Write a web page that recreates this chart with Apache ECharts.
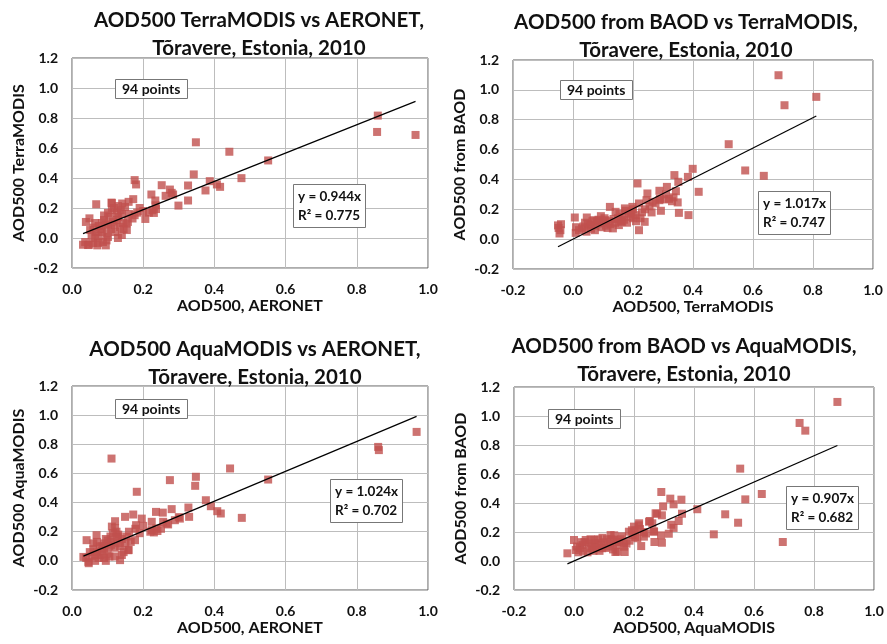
<!DOCTYPE html>
<html>
<head>
<meta charset="utf-8">
<script src="https://cdn.jsdelivr.net/npm/echarts@6/dist/echarts.min.js"></script>
<style>
  html, body { margin: 0; padding: 0; background: #fff; }
  #chart { width: 887px; height: 644px; }
</style>
</head>
<body>
<div id="chart"></div>
<script>
// [x, y] pairs
var terraVsAeronet = [
  [0.859,0.816],[0.857,0.707],[0.965,0.687],[0.348,0.638],[0.442,0.575],[0.551,0.517],[0.476,0.399],[0.342,0.424],
  [0.387,0.379],[0.375,0.317],[0.407,0.357],[0.416,0.341],[0.326,0.350],[0.326,0.250],[0.299,0.216],[0.252,0.352],
  [0.275,0.323],[0.280,0.301],[0.263,0.281],[0.284,0.290],[0.234,0.250],[0.223,0.290],[0.235,0.218],[0.226,0.185],
  [0.216,0.169],[0.206,0.127],[0.176,0.386],[0.180,0.357],[0.172,0.259],[0.159,0.241],[0.183,0.169],[0.176,0.152],
  [0.153,0.096],[0.137,0.185],[0.141,0.230],[0.111,0.236],[0.068,0.225],[0.049,0.131],[0.039,0.107],[0.031,-0.045],
  [0.048,-0.045],[0.071,-0.049],[0.095,-0.049],[0.097,-0.016],[0.129,0.213],[0.112,0.187],[0.149,0.207],[0.101,0.167],
  [0.126,0.167],[0.236,0.193],[0.230,0.167],[0.065,0.100],[0.084,0.100],[0.101,0.087],[0.126,0.120],[0.143,0.100],
  [0.157,0.107],[0.135,0.073],[0.154,0.053],[0.051,0.053],[0.067,0.040],[0.084,0.040],[0.098,0.033],[0.121,0.040],
  [0.140,0.020],[0.101,0.007],[0.037,-0.027],[0.059,-0.033],[0.073,-0.033],[0.087,-0.027],[0.065,0.000],[0.129,0.000],
  [0.045,-0.047],[0.118,0.200],[0.105,0.140],[0.090,0.120],[0.075,0.080],[0.080,0.060],[0.060,0.070],[0.110,0.060],
  [0.120,0.090],[0.130,0.140],[0.160,0.160],[0.190,0.200],[0.200,0.180],[0.170,0.130],[0.145,0.060],[0.090,0.150],
  [0.115,0.110],[0.055,0.020],[0.075,0.015],[0.095,0.090],[0.140,0.160],[0.112,0.233]
];
var baodVsTerra = [
  [0.685,1.098],[0.705,0.897],[0.811,0.953],[0.519,0.636],[0.574,0.460],[0.636,0.424],[0.399,0.471],[0.419,0.317],
  [0.383,0.417],[0.338,0.429],[0.351,0.384],[0.343,0.321],[0.349,0.246],[0.353,0.176],[0.385,0.161],[0.313,0.350],
  [0.288,0.324],[0.288,0.261],[0.304,0.266],[0.330,0.254],[0.293,0.190],[0.262,0.179],[0.245,0.261],[0.248,0.306],
  [0.215,0.373],[0.220,0.239],[0.198,0.216],[0.173,0.206],[0.192,0.149],[0.220,0.060],[0.239,0.116],[0.209,0.161],
  [0.142,0.183],[0.123,0.216],[0.133,0.072],[0.108,0.127],[0.073,0.060],[0.093,0.154],[0.046,0.145],[0.006,0.145],
  [0.009,0.042],[-0.050,0.092],[-0.045,0.038],[-0.042,0.060],[-0.048,0.075],[-0.040,0.100],[0.030,0.072],[0.058,0.094],
  [0.069,0.127],[0.086,0.105],[0.164,0.116],[0.153,0.094],[0.020,0.060],[0.035,0.085],[0.050,0.100],[0.060,0.070],
  [0.075,0.090],[0.080,0.120],[0.095,0.080],[0.100,0.110],[0.110,0.090],[0.120,0.120],[0.125,0.100],[0.140,0.110],
  [0.150,0.140],[0.160,0.120],[0.170,0.130],[0.180,0.110],[0.185,0.170],[0.200,0.140],[0.210,0.120],[0.225,0.140],
  [0.230,0.180],[0.240,0.200],[0.255,0.220],[0.265,0.250],[0.275,0.240],[0.290,0.270],[0.310,0.300],[0.320,0.270],
  [0.335,0.280],[0.155,0.170],[0.165,0.150],[0.045,0.050],[0.065,0.120],[0.085,0.130],[0.105,0.140],[0.115,0.075],
  [0.135,0.135],[0.175,0.190],[0.195,0.180],[0.200,0.200],[0.010,0.080],[0.040,0.110]
];
var aquaVsAeronet = [
  [0.968,0.885],[0.860,0.782],[0.862,0.760],[0.111,0.702],[0.444,0.634],[0.348,0.577],[0.346,0.515],[0.275,0.554],
  [0.551,0.558],[0.376,0.416],[0.390,0.375],[0.408,0.341],[0.418,0.325],[0.477,0.295],[0.327,0.366],[0.329,0.302],
  [0.280,0.355],[0.236,0.336],[0.255,0.331],[0.182,0.474],[0.149,0.302],[0.172,0.318],[0.196,0.290],[0.180,0.245],
  [0.121,0.272],[0.224,0.268],[0.256,0.268],[0.289,0.279],[0.303,0.290],[0.224,0.211],[0.237,0.222],[0.266,0.256],
  [0.041,0.142],[0.069,0.176],[0.032,0.027],[0.046,-0.007],[0.135,0.005],[0.158,0.073],[0.177,0.142],[0.112,0.235],
  [0.121,0.224],[0.178,0.220],[0.220,0.200],[0.230,0.195],[0.240,0.205],[0.108,0.167],[0.131,0.167],[0.154,0.167],
  [0.131,0.121],[0.159,0.075],[0.047,-0.016],[0.060,0.080],[0.070,0.060],[0.080,0.040],[0.090,0.020],[0.100,0.050],
  [0.105,0.100],[0.085,0.100],[0.055,0.030],[0.065,0.000],[0.075,0.020],[0.095,0.000],[0.110,0.130],[0.125,0.200],
  [0.130,0.180],[0.140,0.150],[0.115,0.190],[0.100,0.140],[0.090,0.120],[0.120,0.090],[0.135,0.100],[0.145,0.060],
  [0.140,0.040],[0.120,0.030],[0.060,0.120],[0.078,0.100],[0.050,0.060],[0.040,0.020],[0.165,0.130],[0.190,0.190],
  [0.200,0.240],[0.250,0.220],[0.270,0.250],[0.300,0.300],[0.160,0.200],[0.085,0.070],[0.110,0.110],[0.095,0.150],
  [0.065,0.040],[0.070,0.130],[0.125,0.160],[0.150,0.120],[0.105,0.030],[0.090,0.085]
];
var baodVsAqua = [
  [0.878,1.097],[0.752,0.952],[0.771,0.899],[0.554,0.637],[0.626,0.462],[0.571,0.425],[0.504,0.322],[0.547,0.264],
  [0.466,0.184],[0.696,0.131],[0.411,0.357],[0.358,0.423],[0.360,0.326],[0.349,0.276],[0.332,0.391],[0.321,0.430],
  [0.291,0.476],[0.297,0.377],[0.277,0.326],[0.293,0.315],[0.324,0.250],[0.332,0.228],[0.316,0.188],[0.290,0.177],
  [0.293,0.126],[0.268,0.131],[0.266,0.205],[0.253,0.276],[0.232,0.200],[0.224,0.103],[0.204,0.166],[0.216,0.246],
  [0.193,0.212],[0.169,0.062],[0.138,0.062],[0.166,0.119],[0.134,0.177],[0.143,0.131],[-0.022,0.053],[0.000,0.145],
  [0.006,0.076],[0.028,0.110],[0.039,0.145],[0.056,0.088],[0.067,0.145],[0.083,0.122],[0.094,0.088],[0.122,0.179],
  [0.133,0.145],[0.150,0.133],[0.144,0.064],[0.167,0.099],[0.183,0.202],[0.200,0.237],[0.217,0.260],[0.211,0.157],
  [0.250,0.271],[0.261,0.260],[0.272,0.329],[0.233,0.168],[0.267,0.202],[0.010,0.100],[0.015,0.060],[0.020,0.090],
  [0.030,0.070],[0.035,0.130],[0.045,0.060],[0.050,0.120],[0.060,0.100],[0.065,0.070],[0.070,0.120],[0.075,0.090],
  [0.080,0.150],[0.085,0.070],[0.090,0.110],[0.100,0.130],[0.105,0.090],[0.110,0.150],[0.115,0.100],[0.120,0.120],
  [0.130,0.080],[0.140,0.110],[0.155,0.150],[0.160,0.170],[0.175,0.120],[0.185,0.140],[0.195,0.180],[0.205,0.210],
  [0.220,0.220],[0.240,0.190],[0.025,0.130],[0.055,0.150],[0.095,0.160],[0.125,0.150]
];

var panelData = [terraVsAeronet, baodVsTerra, aquaVsAeronet, baodVsAqua];
var slopes = [0.944, 1.017, 1.024, 0.907];
var rSquared = ['0.775', '0.747', '0.702', '0.682'];
var pointCounts = [94, 94, 94, 94];
var titles = [
  'AOD500 TerraMODIS vs AERONET,\nTõravere, Estonia, 2010',
  'AOD500 from BAOD vs TerraMODIS,\nTõravere, Estonia, 2010',
  'AOD500 AquaMODIS vs AERONET,\nTõravere, Estonia, 2010',
  'AOD500 from BAOD vs AquaMODIS,\nTõravere, Estonia, 2010'
];
var xNames = ['AOD500, AERONET', 'AOD500, TerraMODIS', 'AOD500, AERONET', 'AOD500, AquaMODIS'];
var yNames = ['AOD500 TerraMODIS', 'AOD500 from BAOD', 'AOD500 AquaMODIS', 'AOD500 from BAOD'];
var xMins = [0, -0.2, 0, -0.2];
var xMax = 1.0, yMin = -0.2, yMax = 1.2, tickStep = 0.2;

var FONT = 'Lato';
var grids = [
  {left: 72, top: 58, width: 356, height: 210},
  {left: 513, top: 60, width: 360, height: 209},
  {left: 72, top: 386, width: 356, height: 204},
  {left: 514, top: 387, width: 360, height: 203}
];
var titlePos = [[254, 1], [681, 3], [250, 330], [679, 327]];
var countPos = [[115, 79], [560, 80], [115, 399], [548, 409]];
var eqPos = [[293, 184], [758, 191], [330, 479], [786, 486]];

function fmt(v) {
  if (Math.abs(v) < 1e-9) v = 0;
  return v.toFixed(1);
}

var option = {
  animation: false,
  backgroundColor: '#fff',
  textStyle: {fontFamily: FONT},
  title: [], grid: [], xAxis: [], yAxis: [], series: []
};

panelData.forEach(function (pts, i) {
  var g = grids[i];
  option.grid.push({
    left: g.left, top: g.top, width: g.width, height: g.height,
    show: true, borderColor: '#5a5a5a', borderWidth: 1, backgroundColor: '#fff'
  });
  option.title.push({
    text: titles[i], left: titlePos[i][0], top: titlePos[i][1], textAlign: 'center',
    textStyle: {fontFamily: FONT, fontWeight: 'bold', fontSize: 20.5, lineHeight: 28, color: '#111'}
  });
  option.title.push({
    text: pointCounts[i] + ' points', left: countPos[i][0], top: countPos[i][1],
    padding: [2, 7], borderColor: '#777', borderWidth: 1, backgroundColor: '#fff',
    textStyle: {fontFamily: FONT, fontWeight: 'bold', fontSize: 14, lineHeight: 16, color: '#111'}
  });
  option.title.push({
    text: 'y = ' + slopes[i].toFixed(3) + 'x\nR² = ' + rSquared[i],
    left: eqPos[i][0], top: eqPos[i][1],
    padding: [3, 5], borderColor: '#777', borderWidth: 1, backgroundColor: '#fff',
    textStyle: {fontFamily: FONT, fontWeight: 'bold', fontSize: 13.5, lineHeight: 19, color: '#111'}
  });
  option.xAxis.push({
    gridIndex: i, type: 'value', min: xMins[i], max: xMax, interval: tickStep,
    name: xNames[i], nameLocation: 'middle', nameGap: 30,
    nameTextStyle: {fontFamily: FONT, fontWeight: 'bold', fontSize: 16, color: '#111'},
    axisLine: {show: false}, axisTick: {show: false},
    axisLabel: {formatter: fmt, margin: 14, fontFamily: FONT, fontWeight: 'bold', fontSize: 14, color: '#111'},
    splitLine: {show: true, lineStyle: {color: '#bdbdbd', width: 1}}
  });
  option.yAxis.push({
    gridIndex: i, type: 'value', min: yMin, max: yMax, interval: tickStep,
    name: yNames[i], nameLocation: 'middle', nameGap: 45,
    nameTextStyle: {fontFamily: FONT, fontWeight: 'bold', fontSize: 16, color: '#111'},
    axisLine: {show: false}, axisTick: {show: false},
    axisLabel: {formatter: fmt, margin: 14, fontFamily: FONT, fontWeight: 'bold', fontSize: 14, color: '#111'},
    splitLine: {show: true, lineStyle: {color: '#bdbdbd', width: 1}}
  });
  option.series.push({
    type: 'scatter', xAxisIndex: i, yAxisIndex: i, data: pts,
    symbol: 'rect', symbolSize: 8, itemStyle: {color: '#c0504d'}, z: 2
  });
  // trend line through the origin, y = k x, over the x range of the data
  var xs = pts.map(function (p) { return p[0]; });
  var lo = Math.min.apply(null, xs), hi = Math.max.apply(null, xs);
  option.series.push({
    type: 'line', xAxisIndex: i, yAxisIndex: i,
    data: [[lo, slopes[i] * lo], [hi, slopes[i] * hi]],
    showSymbol: false, silent: true, z: 3,
    lineStyle: {color: '#000', width: 1.2}
  });
});

var myChart = echarts.init(document.getElementById('chart'));
myChart.setOption(option);
</script>
</body>
</html>
